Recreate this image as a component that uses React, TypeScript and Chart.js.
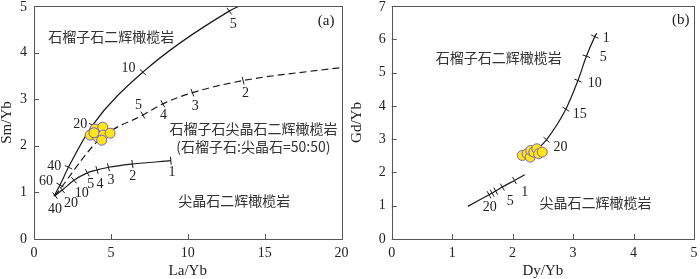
import React, { useEffect, useRef } from "react";
import { Chart, registerables } from "chart.js";
Chart.register(...registerables);

type P = { x: number; y: number };
type L = { x: number; y: number; t: string };

// ---------- Panel (a): Sm/Yb vs La/Yb ----------
const aGarnetCurve: P[] = [
  { x: 1.3, y: 0.92 }, { x: 1.69, y: 1.16 }, { x: 2.24, y: 1.54 }, { x: 3.8, y: 2.44 },
  { x: 7.08, y: 3.58 }, { x: 12.7, y: 4.89 }, { x: 13.7, y: 5.05 },
];
const aGarnetTicks: P[] = [
  { x: 1.69, y: 1.16 }, { x: 2.24, y: 1.54 }, { x: 3.8, y: 2.44 }, { x: 7.08, y: 3.58 }, { x: 12.7, y: 4.89 },
];
const aMixCurve: P[] = [
  { x: 1.35, y: 0.92 }, { x: 4.3, y: 2.15 }, { x: 7.08, y: 2.66 }, { x: 8.38, y: 2.9 },
  { x: 10.3, y: 3.14 }, { x: 13.6, y: 3.4 }, { x: 20, y: 3.68 },
];
const aMixTicks: P[] = [
  { x: 7.08, y: 2.66 }, { x: 8.38, y: 2.9 }, { x: 10.3, y: 3.14 }, { x: 13.6, y: 3.4 },
];
const aSpinelCurve: P[] = [
  { x: 1.37, y: 0.93 }, { x: 1.84, y: 1.05 }, { x: 2.6, y: 1.26 }, { x: 3.47, y: 1.42 },
  { x: 4.1, y: 1.48 }, { x: 4.84, y: 1.54 }, { x: 6.4, y: 1.61 }, { x: 8.9, y: 1.68 },
];
const aSpinelTicks: P[] = [
  { x: 1.37, y: 0.93 }, { x: 1.84, y: 1.05 }, { x: 2.6, y: 1.26 }, { x: 3.47, y: 1.42 },
  { x: 4.1, y: 1.48 }, { x: 4.84, y: 1.54 }, { x: 6.4, y: 1.61 }, { x: 8.9, y: 1.68 },
];
const aSamples: P[] = [
  { x: 3.65, y: 2.23 }, { x: 3.97, y: 2.36 }, { x: 4.47, y: 2.4 }, { x: 4.13, y: 2.19 },
  { x: 4.5, y: 2.23 }, { x: 4.95, y: 2.27 }, { x: 4.4, y: 2.12 }, { x: 3.9, y: 2.28 },
];
const aNumLabels: L[] = [
  { x: 12.96, y: 4.61, t: "5" }, { x: 6.14, y: 3.66, t: "10" }, { x: 3.0, y: 2.46, t: "20" },
  { x: 1.32, y: 1.57, t: "40" }, { x: 0.78, y: 1.24, t: "60" },
  { x: 6.8, y: 2.86, t: "5" }, { x: 8.42, y: 2.65, t: "4" }, { x: 10.49, y: 2.84, t: "3" }, { x: 13.75, y: 3.12, t: "2" },
  { x: 8.97, y: 1.42, t: "1" }, { x: 6.43, y: 1.35, t: "2" }, { x: 5.0, y: 1.26, t: "3" },
  { x: 3.69, y: 1.17, t: "5" }, { x: 4.3, y: 1.17, t: "4" }, { x: 3.1, y: 0.97, t: "10" },
  { x: 2.4, y: 0.76, t: "20" }, { x: 1.37, y: 0.63, t: "40" },
];
const aTextLabels: L[] = [
  { x: 5.02, y: 4.35, t: "石榴子石二辉橄榄岩" },
  { x: 14.27, y: 2.36, t: "石榴子石尖晶石二辉橄榄岩" },
  { x: 14.27, y: 1.98, t: "(石榴子石:尖晶石=50:50)" },
  { x: 13.03, y: 0.82, t: "尖晶石二辉橄榄岩" },
];
const aTag: L = { x: 19.0, y: 4.68, t: "(a)" };

// ---------- Panel (b): Gd/Yb vs Dy/Yb ----------
const bGarnetCurve: P[] = [
  { x: 2.47, y: 2.8 }, { x: 2.56, y: 2.98 }, { x: 2.88, y: 3.9 }, { x: 3.08, y: 4.76 },
  { x: 3.22, y: 5.49 }, { x: 3.36, y: 6.08 }, { x: 3.39, y: 6.18 },
];
const bGarnetTicks: P[] = [
  { x: 2.56, y: 2.98 }, { x: 2.88, y: 3.9 }, { x: 3.08, y: 4.76 }, { x: 3.22, y: 5.49 }, { x: 3.36, y: 6.08 },
];
const bSpinelCurve: P[] = [
  { x: 1.26, y: 0.98 }, { x: 1.61, y: 1.33 }, { x: 1.66, y: 1.38 }, { x: 1.72, y: 1.44 },
  { x: 1.83, y: 1.56 }, { x: 2.03, y: 1.76 }, { x: 2.2, y: 1.93 },
];
const bSpinelTicks: P[] = [
  { x: 1.61, y: 1.33 }, { x: 1.66, y: 1.38 }, { x: 1.72, y: 1.44 }, { x: 1.83, y: 1.56 }, { x: 2.03, y: 1.76 },
];
const bSamples: P[] = [
  { x: 2.16, y: 2.51 }, { x: 2.24, y: 2.56 }, { x: 2.29, y: 2.46 }, { x: 2.3, y: 2.66 },
  { x: 2.35, y: 2.61 }, { x: 2.4, y: 2.71 }, { x: 2.43, y: 2.56 }, { x: 2.49, y: 2.61 },
];
const bNumLabels: L[] = [
  { x: 3.55, y: 6.03, t: "1" }, { x: 3.5, y: 5.45, t: "5" }, { x: 3.36, y: 4.69, t: "10" },
  { x: 3.11, y: 3.75, t: "15" }, { x: 2.79, y: 2.76, t: "20" },
  { x: 2.2, y: 1.39, t: "1" }, { x: 1.96, y: 1.12, t: "5" }, { x: 1.62, y: 0.95, t: "20" },
];
const bTextLabels: L[] = [
  { x: 1.77, y: 5.45, t: "石榴子石二辉橄榄岩" },
  { x: 3.37, y: 1.09, t: "尖晶石二辉橄榄岩" },
];
const bTag: L = { x: 4.78, y: 6.57, t: "(b)" };

const SERIF = '"Liberation Serif", "Times New Roman", serif';
const CJK = '"Noto Sans CJK SC", sans-serif';
const AXIS = "#555";
const TEXT = "#222";
const LINE = "#1a1a1a";

function perpRot(curve: P[]) {
  return (ctx: any) => {
    const p = ctx.raw as P;
    const sx = ctx.chart.scales.x, sy = ctx.chart.scales.y;
    if (!p || !sx || !sy) return 0;
    const px = sx.getPixelForValue(p.x), py = sy.getPixelForValue(p.y);
    let best = Infinity, ang = 0;
    for (let i = 0; i < curve.length - 1; i++) {
      const ax = sx.getPixelForValue(curve[i].x), ay = sy.getPixelForValue(curve[i].y);
      const bx = sx.getPixelForValue(curve[i + 1].x), by = sy.getPixelForValue(curve[i + 1].y);
      const dx = bx - ax, dy = by - ay;
      const len2 = dx * dx + dy * dy || 1;
      let t = ((px - ax) * dx + (py - ay) * dy) / len2;
      t = Math.max(0, Math.min(1, t));
      const cx = ax + t * dx, cy = ay + t * dy;
      const d = (px - cx) ** 2 + (py - cy) ** 2;
      if (d < best - 1e-6) { best = d; ang = Math.atan2(dy, dx); }
    }
    return (ang * 180) / Math.PI + 90;
  };
}

type Spec = {
  curves: { pts: P[]; dashed?: boolean }[];
  ticks: { pts: P[]; curve: P[] }[];
  samples: P[];
  nums: L[];
  texts: L[];
  tag: L;
  xMax: number; xStep: number; yMax: number; yStep: number;
  xTitle: string; yTitle: string;
  yWidth: number; padTop: number; padRight: number; yLabelPad: number;
};

function makeChart(canvas: HTMLCanvasElement, s: Spec) {
  const datasets: any[] = [];
  datasets.push({
    data: s.samples, order: 0, showLine: false, pointRadius: 5,
    pointBackgroundColor: "#FFE61A", pointBorderColor: "#7A62B8", pointBorderWidth: 1,
  });
  s.curves.forEach((c) => datasets.push({
    data: c.pts, order: 2, showLine: true, pointRadius: 0, borderColor: LINE, borderWidth: 1.2,
    borderDash: c.dashed ? [7, 4] : [], cubicInterpolationMode: "monotone", fill: false,
  }));
  s.ticks.forEach((t) => datasets.push({
    data: t.pts, order: 1, showLine: false, pointStyle: "line", pointRadius: 4,
    pointBorderColor: LINE, pointBorderWidth: 1, pointRotation: perpRot(t.curve),
  }));

  const deco = {
    id: "deco",
    afterDatasetsDraw(chart: any) {
      const c = chart.ctx as CanvasRenderingContext2D;
      const a = chart.chartArea;
      const sx = chart.scales.x, sy = chart.scales.y;
      c.save();
      // frame
      c.strokeStyle = AXIS; c.lineWidth = 1;
      c.strokeRect(Math.round(a.left) + 0.5, Math.round(a.top) + 0.5,
        Math.round(a.right) - Math.round(a.left), Math.round(a.bottom) - Math.round(a.top));
      // inward ticks
      c.beginPath();
      sx.ticks.forEach((t: any) => {
        const x = Math.round(sx.getPixelForValue(t.value)) + 0.5;
        c.moveTo(x, a.bottom); c.lineTo(x, a.bottom - 5);
      });
      sy.ticks.forEach((t: any) => {
        const y = Math.round(sy.getPixelForValue(t.value)) + 0.5;
        c.moveTo(a.left, y); c.lineTo(a.left + 5, y);
      });
      c.stroke();
      // y tick labels
      c.fillStyle = TEXT; c.font = `14px ${SERIF}`;
      c.textAlign = "right"; c.textBaseline = "middle";
      sy.ticks.forEach((t: any) => {
        const y = Math.max(7, sy.getPixelForValue(t.value));
        c.fillText(String(t.value), a.left - s.yLabelPad, y);
      });
      // curve numbers
      c.textAlign = "center";
      s.nums.forEach((l) => c.fillText(l.t, sx.getPixelForValue(l.x), sy.getPixelForValue(l.y)));
      // tag
      c.font = `15px ${SERIF}`;
      c.fillText(s.tag.t, sx.getPixelForValue(s.tag.x), sy.getPixelForValue(s.tag.y));
      // field names
      c.font = `14px ${CJK}`; c.fillStyle = "#333";
      s.texts.forEach((l) => c.fillText(l.t, sx.getPixelForValue(l.x), sy.getPixelForValue(l.y)));
      c.restore();
    },
  };

  return new Chart(canvas, {
    type: "scatter",
    data: { datasets },
    plugins: [deco],
    options: {
      animation: false,
      responsive: false,
      events: [],
      layout: { padding: { top: s.padTop, right: s.padRight, left: 0, bottom: 0 } },
      plugins: { legend: { display: false }, tooltip: { enabled: false } },
      scales: {
        x: {
          type: "linear", min: 0, max: s.xMax,
          ticks: { stepSize: s.xStep, color: TEXT, font: { family: SERIF, size: 14 }, padding: 6, maxRotation: 0 },
          grid: { display: false, drawTicks: false }, border: { display: false },
          title: { display: true, text: s.xTitle, color: TEXT, font: { family: SERIF, size: 15, lineHeight: 1 }, padding: { top: 0, bottom: 0 } },
          afterFit: (sc: any) => { sc.height = 40; sc.paddingLeft = 0; sc.paddingRight = 0; },
        },
        y: {
          type: "linear", min: 0, max: s.yMax,
          ticks: { stepSize: s.yStep, display: false },
          grid: { display: false, drawTicks: false }, border: { display: false },
          title: { display: true, text: s.yTitle, color: TEXT, font: { family: SERIF, size: 15, lineHeight: 1 }, padding: { top: 0, bottom: 0 } },
          afterFit: (sc: any) => { sc.width = s.yWidth; sc.paddingTop = 0; sc.paddingBottom = 0; },
        },
      },
    } as any,
  });
}

const specA: Spec = {
  curves: [{ pts: aGarnetCurve }, { pts: aMixCurve, dashed: true }, { pts: aSpinelCurve }],
  ticks: [
    { pts: aGarnetTicks, curve: aGarnetCurve },
    { pts: aMixTicks, curve: aMixCurve },
    { pts: aSpinelTicks, curve: aSpinelCurve },
  ],
  samples: aSamples, nums: aNumLabels, texts: aTextLabels, tag: aTag,
  xMax: 20, xStep: 5, yMax: 5, yStep: 1, xTitle: "La/Yb", yTitle: "Sm/Yb",
  yWidth: 34, padTop: 1.5, padRight: 8.5, yLabelPad: 7,
};
const specB: Spec = {
  curves: [{ pts: bGarnetCurve }, { pts: bSpinelCurve }],
  ticks: [
    { pts: bGarnetTicks, curve: bGarnetCurve },
    { pts: bSpinelTicks, curve: bSpinelCurve },
  ],
  samples: bSamples, nums: bNumLabels, texts: bTextLabels, tag: bTag,
  xMax: 5, xStep: 1, yMax: 7, yStep: 1, xTitle: "Dy/Yb", yTitle: "Gd/Yb",
  yWidth: 41.7, padTop: 0.5, padRight: 2, yLabelPad: 6,
};

export default function App() {
  const refA = useRef<HTMLCanvasElement>(null);
  const refB = useRef<HTMLCanvasElement>(null);
  useEffect(() => {
    const ca = makeChart(refA.current!, specA);
    const cb = makeChart(refB.current!, specB);
    return () => { ca.destroy(); cb.destroy(); };
  }, []);
  return (
    <div style={{ position: "fixed", left: 0, top: 0, width: 700, height: 279, background: "#fff" }}>
      <canvas ref={refA} width={350} height={279} style={{ position: "absolute", left: 0, top: 0, width: 350, height: 279 }} />
      <canvas ref={refB} width={350} height={279} style={{ position: "absolute", left: 350, top: 0, width: 350, height: 279 }} />
    </div>
  );
}
